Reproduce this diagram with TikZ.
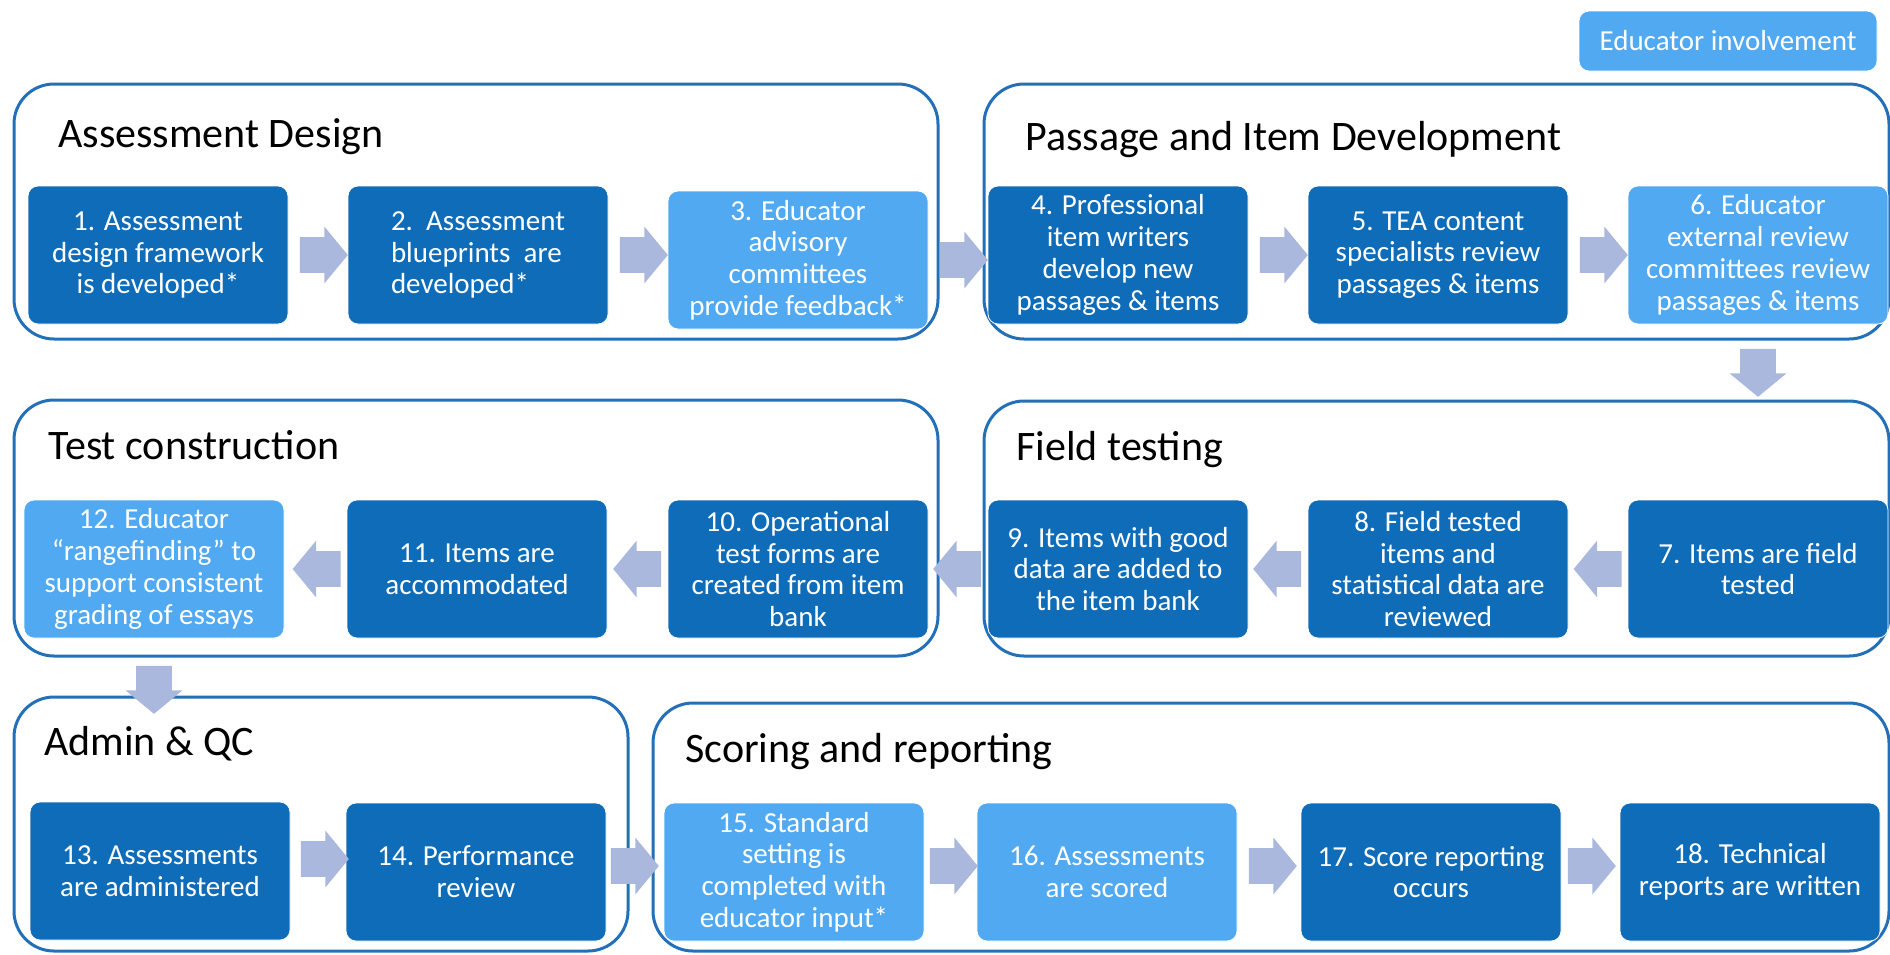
\documentclass[tikz,border=0pt]{standalone}
\usepackage{fontspec}
\setmainfont{Carlito}
\usetikzlibrary{positioning,shapes.arrows}

\definecolor{stepdark}{HTML}{0F6CB8}
\definecolor{steplight}{HTML}{50A9F1}
\definecolor{flowblue}{HTML}{A9B8DC}
\definecolor{framebl}{HTML}{2370B8}

\tikzset{
  stage/.style={draw=framebl, line width=1.5pt, rounded corners=20pt},
  stagetitle/.style={anchor=base west, inner sep=0pt, font=\fontsize{21}{25}\selectfont},
  task/.style={fill=stepdark, draw=white, line width=0.4pt, rounded corners=5pt,
    minimum width=130pt, minimum height=69pt, inner sep=0pt, text=white,
    align=center, font=\fontsize{14.5}{15.9}\selectfont},
  educ/.style={task, fill=steplight},
  flow/.style={single arrow, fill=flowblue, draw=none, inner xsep=0pt, inner ysep=8.75pt,
    minimum height=24pt, single arrow head extend=5.25pt,
    single arrow tip angle=101},
  flowleft/.style={flow, shape border rotate=180},
  flowdown/.style={flow, shape border rotate=270, inner xsep=8.75pt, inner ysep=0pt},
}

\begin{document}
\begin{tikzpicture}[x=0.5pt,y=-0.5pt]
  \useasboundingbox (0,0) rectangle (1890,954);

  % stage frames
  \draw[stage] (14,84) rectangle (938,339);
  \draw[stage] (984,84) rectangle (1889,339);
  \draw[stage] (14,400) rectangle (938,656);
  \draw[stage] (984,401) rectangle (1889,656);
  \draw[stage] (14,697) rectangle (628,951);
  \draw[stage] (653,703) rectangle (1889,951);

  \node[stagetitle] (t1) at (58,147) {Assessment Design};
  \node[stagetitle] (t2) at (1025,150) {Passage and Item Development};
  \node[stagetitle] (t3) at (48,459) {Test construction};
  \node[stagetitle] (t4) at (1016,460) {Field testing};
  \node[stagetitle] (t5) at (44,755) {Admin \& QC};
  \node[stagetitle] (t6) at (685,762) {Scoring and reporting};

  % legend
  \node[educ, minimum width=149pt, minimum height=30pt] (legend) at (1728,41) {Educator involvement};

  % row 1
  \node[task] (s1) at (158,255) {1. Assessment\\design framework\\is developed*};
  \node[task, align=left] (s2) at (478,255) {2.\ \ Assessment\\blueprints\ \ are\\developed*};
  \node[educ] (s3) at (798,260) {3. Educator\\advisory\\committees\\provide feedback*};
  \node[task] (s4) at (1118,255) {4. Professional\\item writers\\develop new\\passages \& items};
  \node[task] (s5) at (1438,255) {5. TEA content\\specialists review\\passages \& items};
  \node[educ] (s6) at (1758,255) {6. Educator\\external review\\committees review\\passages \& items};

  % row 2
  \node[task] (s7) at (1758,569) {7. Items are field\\tested};
  \node[task] (s8) at (1438,569) {8. Field tested\\items and\\statistical data are\\reviewed};
  \node[task] (s9) at (1118,569) {9. Items with good\\data are added to\\the item bank};
  \node[task] (s10) at (798,569) {10. Operational\\test forms are\\created from item\\bank};
  \node[task] (s11) at (477,569) {11. Items are\\accommodated};
  \node[educ] (s12) at (154,569) {12. Educator\\``rangefinding'' to\\support consistent\\grading of essays};

  % row 3
  \node[task] (s13) at (160,871) {13. Assessments\\are administered};
  \node[task] (s14) at (476,872) {14. Performance\\review};
  \node[educ] (s15) at (794,872) {15. Standard\\setting is\\completed with\\educator input*};
  \node[educ] (s16) at (1107,872) {16. Assessments\\are scored};
  \node[task] (s17) at (1431,872) {17. Score reporting\\occurs};
  \node[task] (s18) at (1750,872) {18. Technical\\reports are written};

  % arrows
  \node[flow, right=5.5pt of s1] (f1) {};
  \node[flow, right=5.5pt of s2] (f2) {};
  \node[flow, right=5.5pt of s3] (f3) {};
  \node[flow, right=5.5pt of s4] (f4) {};
  \node[flow, right=5.5pt of s5] (f5) {};
  \node[flowdown, below=12pt of s6] (f6) {};
  \node[flowleft, left=2.75pt of s7] (f7) {};
  \node[flowleft, left=3pt of s8] (f8) {};
  \node[flowleft, left=3pt of s9] (f9) {};
  \node[flowleft, left=3pt of s10] (f10) {};
  \node[flowleft, left=2.75pt of s11] (f11) {};
  \node[flowdown, below=13.5pt of s12] (f12) {};
  \node[flow, right=5pt of s13, yshift=6pt] (f13) {};
  \node[flow, right=2pt of s14, yshift=3pt] (f14) {};
  \node[flow, right=2.5pt of s15, yshift=3pt] (f15) {};
  \node[flow, right=5.5pt of s16, yshift=3pt] (f16) {};
  \node[flow, right=3pt of s17, yshift=3pt] (f17) {};
\end{tikzpicture}
\end{document}
